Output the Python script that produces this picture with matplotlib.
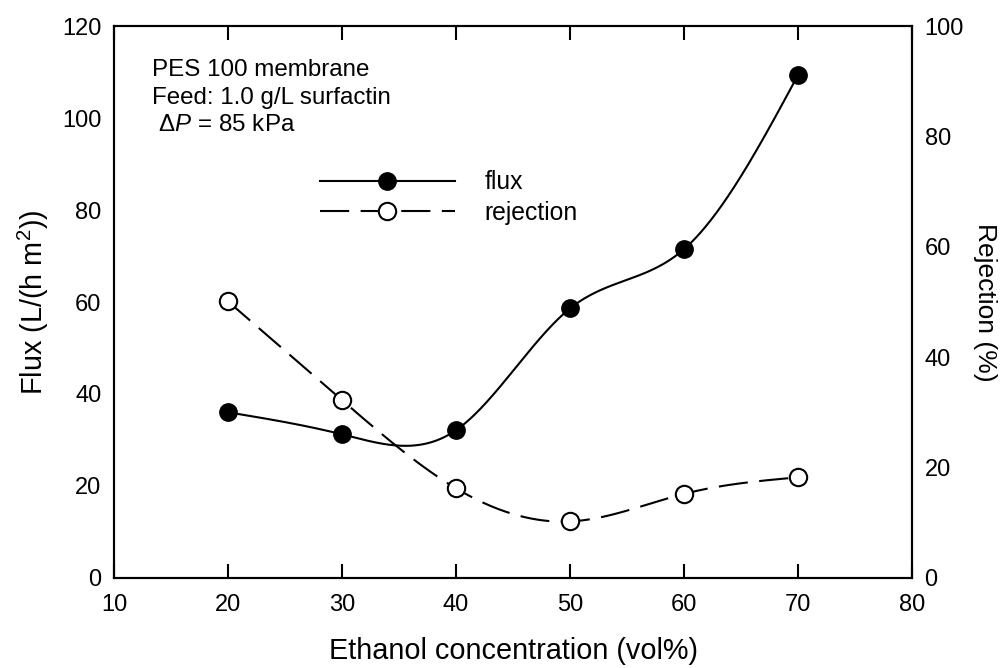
import numpy as np
import matplotlib
matplotlib.use("Agg")
import matplotlib.pyplot as plt
from matplotlib.lines import Line2D

plt.rcParams['font.family'] = ['Liberation Sans', 'DejaVu Sans']
plt.rcParams['mathtext.fontset'] = 'custom'
plt.rcParams['mathtext.rm'] = 'Liberation Sans'
plt.rcParams['mathtext.it'] = 'Liberation Sans:italic'

ethanol = [20, 30, 40, 50, 60, 70]
flux = [36.0, 31.2, 32.1, 58.6, 71.5, 109.4]
rejection = [50.1, 32.2, 16.2, 10.2, 15.2, 18.2]


def natural_spline(x, y, xs):
    x = np.asarray(x, float)
    y = np.asarray(y, float)
    n = len(x)
    h = np.diff(x)
    A = np.zeros((n, n))
    b = np.zeros(n)
    A[0, 0] = 1
    A[-1, -1] = 1
    for i in range(1, n - 1):
        A[i, i - 1] = h[i - 1]
        A[i, i] = 2 * (h[i - 1] + h[i])
        A[i, i + 1] = h[i]
        b[i] = 6 * ((y[i + 1] - y[i]) / h[i] - (y[i] - y[i - 1]) / h[i - 1])
    M = np.linalg.solve(A, b)
    out = np.empty_like(xs)
    for k, xv in enumerate(xs):
        i = min(max(np.searchsorted(x, xv) - 1, 0), n - 2)
        t1 = x[i + 1] - xv
        t0 = xv - x[i]
        out[k] = (M[i] * t1 ** 3 / (6 * h[i]) + M[i + 1] * t0 ** 3 / (6 * h[i])
                  + (y[i] / h[i] - M[i] * h[i] / 6) * t1
                  + (y[i + 1] / h[i] - M[i + 1] * h[i] / 6) * t0)
    return out


fig = plt.figure(figsize=(10.03, 6.68), dpi=100)
ax = fig.add_axes([0.1137, 0.1352, 0.7956, 0.8254])
ax2 = ax.twinx()

xs = np.linspace(ethanol[0], ethanol[-1], 400)
lw = 1.5
ms = 12.5

ax.plot(xs, natural_spline(ethanol, flux, xs), color='black', lw=lw, zorder=2)
ax.plot(ethanol, flux, 'o', color='black', ms=ms, zorder=3)

ax2.plot(xs, natural_spline(ethanol, rejection, xs), color='black', lw=lw,
         dashes=(14, 5.5), zorder=2)
ax2.plot(ethanol, rejection, 'o', mfc='white', mec='black', mew=1.5, ms=ms, zorder=3)

ax.set_xlim(10, 80)
ax.set_ylim(0, 120)
ax2.set_ylim(0, 100)

ax.set_xticks([10, 20, 30, 40, 50, 60, 70, 80])
ax.set_yticks([0, 20, 40, 60, 80, 100, 120])
ax2.set_yticks([0, 20, 40, 60, 80, 100])

fs_tick = 17
ax.tick_params(axis='x', direction='in', length=10, width=1.5, top=True,
               labelsize=fs_tick, pad=12)
ax.tick_params(axis='y', direction='in', length=10, width=1.5, right=False,
               labelsize=fs_tick, pad=9)
ax2.tick_params(axis='y', direction='in', length=10, width=1.5,
                labelsize=fs_tick, pad=9)
for t in ax.xaxis.get_major_ticks():
    if t.get_loc() in (10, 80):
        t.tick1line.set_visible(False)
        t.tick2line.set_visible(False)
for t in ax.yaxis.get_major_ticks():
    if t.get_loc() in (0, 120):
        t.tick1line.set_visible(False)
for t in ax2.yaxis.get_major_ticks():
    if t.get_loc() in (0, 100):
        t.tick2line.set_visible(False)

for a in (ax, ax2):
    for s in a.spines.values():
        s.set_linewidth(1.5)

ax.set_xlabel('Ethanol concentration (vol%)', fontsize=20.8, labelpad=15)
ax.set_ylabel('Flux (L/(h m$^2$))', fontsize=20.8, labelpad=8)
ax2.set_ylabel('Rejection (%)', fontsize=19, rotation=270, labelpad=24)

ax.text(0.047, 0.94, 'PES 100 membrane\nFeed: 1.0 g/L surfactin\n $\\Delta\\mathit{P}$ = 85 kPa',
        transform=ax.transAxes, fontsize=17.4, va='top', ha='left', linespacing=1.32)

handles = [Line2D([], [], color='black', lw=lw, marker='o', ms=ms),
           Line2D([], [], color='black', lw=lw, dashes=(14, 5.5), marker='o',
                  mfc='white', mec='black', mew=1.5, ms=ms)]
ax2.legend(handles, ['flux', 'rejection'], loc='upper left',
           bbox_to_anchor=(0.258, 0.739), frameon=False, fontsize=17.8,
           handlelength=5.45, handletextpad=1.2, borderpad=0, borderaxespad=0,
           labelspacing=0.28, numpoints=1)

fig.savefig('out.png', dpi=100)
